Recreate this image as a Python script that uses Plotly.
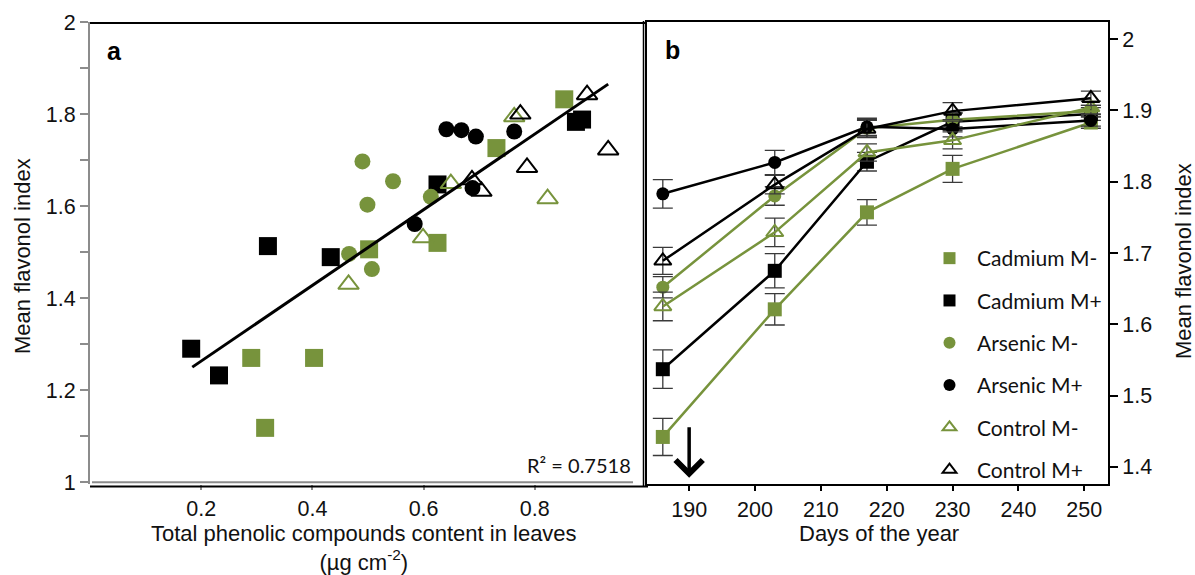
import plotly.graph_objects as go

W, H = 1195, 575
GREEN = '#77933C'
GRAY = '#8c8c8c'
TICKFONT = dict(family='Liberation Sans, Arial', size=21.5, color='#111')
TITLEFONT = dict(family='Liberation Sans, Arial', size=22, color='#111')

# panel a: flavonol index vs total phenolics (one point per plant)
cd_minus_x = [0.290, 0.315, 0.403, 0.502, 0.625, 0.731, 0.853]
cd_minus_y = [1.270, 1.118, 1.270, 1.506, 1.520, 1.726, 1.832]
cd_plus_x = [0.182, 0.232, 0.320, 0.433, 0.625, 0.874, 0.885]
cd_plus_y = [1.290, 1.232, 1.513, 1.489, 1.647, 1.783, 1.788]
as_minus_x = [0.466, 0.507, 0.490, 0.545, 0.499, 0.613]
as_minus_y = [1.496, 1.463, 1.697, 1.654, 1.603, 1.620]
as_plus_x = [0.584, 0.688, 0.641, 0.668, 0.694, 0.763]
as_plus_y = [1.561, 1.639, 1.767, 1.765, 1.751, 1.762]
ct_minus_x = [0.465, 0.599, 0.649, 0.763, 0.823]
ct_minus_y = [1.430, 1.531, 1.649, 1.794, 1.616]
ct_plus_x = [0.687, 0.704, 0.774, 0.786, 0.894, 0.932]
ct_plus_y = [1.657, 1.632, 1.800, 1.684, 1.842, 1.722]
trend_x = [0.184, 0.932]
trend_y = [1.250, 1.865]
r2_text = 'R² = 0.7518'

# panel b: mean flavonol index over time
days = [186, 203, 217, 230, 251]
cd_minus = [1.442, 1.621, 1.757, 1.818, 1.883]
cd_minus_err = [0.026, 0.022, 0.018, 0.019, 0.008]
cd_plus = [1.537, 1.675, 1.828, 1.884, 1.895]
cd_plus_err = [0.027, 0.024, 0.013, 0.012, 0.009]
as_minus = [1.652, 1.780, 1.875, 1.887, 1.899]
as_minus_err = [0.015, 0.013, 0.012, 0.010, 0.008]
as_plus = [1.783, 1.827, 1.877, 1.874, 1.886]
as_plus_err = [0.020, 0.017, 0.012, 0.011, 0.008]
ct_minus = [1.625, 1.729, 1.841, 1.858, 1.904]
ct_minus_err = [0.020, 0.020, 0.012, 0.012, 0.009]
ct_plus = [1.689, 1.796, 1.874, 1.899, 1.917]
ct_plus_err = [0.019, 0.013, 0.012, 0.012, 0.010]
arrow_day = 190

xa_ticks = [0.2, 0.4, 0.6, 0.8]


def px(x):
    return x / W


def py(y):
    return 1 - y / H


series = [
    # name, color, symbol, panel a x/y, panel b y/err
    ('Cadmium M-', GREEN, 'square', cd_minus_x, cd_minus_y, cd_minus, cd_minus_err),
    ('Cadmium M+', 'black', 'square', cd_plus_x, cd_plus_y, cd_plus, cd_plus_err),
    ('Arsenic M-', GREEN, 'circle', as_minus_x, as_minus_y, as_minus, as_minus_err),
    ('Arsenic M+', 'black', 'circle', as_plus_x, as_plus_y, as_plus, as_plus_err),
    ('Control M-', GREEN, 'triangle-up-open', ct_minus_x, ct_minus_y, ct_minus, ct_minus_err),
    ('Control M+', 'black', 'triangle-up-open', ct_plus_x, ct_plus_y, ct_plus, ct_plus_err),
]

fig = go.Figure()

for name, col, sym, ax_, ay_, by_, be_ in series:
    is_tri = sym.startswith('triangle')
    fig.add_trace(go.Scatter(
        x=ax_, y=ay_, mode='markers', name=name, legendgroup=name,
        marker=dict(symbol=sym, color=col, size=18 if not sym == 'circle' else 16,
                    line=dict(color=col, width=2 if is_tri else 0)),
        xaxis='x', yaxis='y'))

fig.add_trace(go.Scatter(
    x=trend_x, y=trend_y, mode='lines', showlegend=False,
    line=dict(color='black', width=3), xaxis='x', yaxis='y'))

for name, col, sym, ax_, ay_, by_, be_ in series:
    is_tri = sym.startswith('triangle')
    fig.add_trace(go.Scatter(
        x=days, y=by_, mode='lines+markers', name=name, legendgroup=name,
        showlegend=False,
        line=dict(color=col, width=2.5),
        marker=dict(symbol=sym, color=col, size=15 if is_tri else (14 if sym == 'square' else 13),
                    line=dict(color=col, width=2 if is_tri else 0)),
        error_y=dict(type='data', array=be_, color='#3a3a3a', thickness=1.3, width=10),
        xaxis='x2', yaxis='y2'))

ydom = [py(484), py(22)]

fig.update_layout(
    width=W, height=H,
    margin=dict(l=0, r=0, t=0, b=0),
    paper_bgcolor='white', plot_bgcolor='white',
    showlegend=True,
    legend=dict(x=px(922), y=py(238), xanchor='left', yanchor='top',
                font=dict(family='Lato', size=21, color='#111'),
                itemsizing='constant', itemwidth=45, tracegroupgap=12,
                bgcolor='rgba(0,0,0,0)'),
    xaxis=dict(domain=[px(90), px(646)], range=[0, 1], anchor='y',
               tickvals=xa_ticks, ticks='outside', ticklen=5, tickcolor=GRAY, tickwidth=2,
               showline=False, showgrid=False, zeroline=False, tickfont=TICKFONT,
               automargin=False),
    yaxis=dict(domain=ydom, range=[0.996, 2], anchor='x',
               tick0=0, dtick=0.2, ticks='outside', ticklen=8, tickcolor=GRAY, tickwidth=2,
               minor=dict(dtick=0.1, ticks='outside', ticklen=8, tickcolor=GRAY, tickwidth=2),
               showline=True, linecolor=GRAY, linewidth=2,
               showgrid=False, zeroline=False, tickfont=TICKFONT, automargin=False),
    xaxis2=dict(domain=[px(647), px(1108)], range=[183.6, 253.6], anchor='y2',
                tick0=0, dtick=10, ticks='outside', ticklen=5, tickcolor='black', tickwidth=1.5,
                showline=True, linecolor='black', linewidth=2, mirror=True,
                showgrid=False, zeroline=False, tickfont=TICKFONT, automargin=False),
    yaxis2=dict(domain=ydom, range=[1.376, 2.024], anchor='x2', side='right',
                tick0=0, dtick=0.1, ticks='outside', ticklen=8, tickcolor='black', tickwidth=1.5,
                showline=True, linecolor='black', linewidth=2, mirror=True,
                showgrid=False, zeroline=False, tickfont=TICKFONT, automargin=False),
)

line_black = dict(color='black', width=2)
fig.add_shape(type='line', xref='paper', yref='paper', x0=px(90), x1=px(646),
              y0=py(23), y1=py(23), line=line_black)
fig.add_shape(type='line', xref='paper', yref='paper', x0=px(90), x1=px(648),
              y0=py(486.5), y1=py(486.5), line=line_black)
fig.add_shape(type='line', xref='paper', yref='paper', x0=px(92), x1=px(633),
              y0=py(482.3), y1=py(482.3), line=dict(color=GRAY, width=2))
fig.add_shape(type='line', xref='paper', yref='paper', x0=px(643.5), x1=px(643.5),
              y0=py(21), y1=py(487), line=dict(color='black', width=1.5))


def note(text, x, y, font, **kw):
    fig.add_annotation(xref='paper', yref='paper', x=px(x), y=py(y), text=text,
                       showarrow=False, xanchor=kw.pop('xanchor', 'center'),
                       yanchor='middle', font=font, **kw)


label_font = dict(family='Liberation Sans, Arial', size=25, color='black')
note('<b>a</b>', 114, 51, label_font)
note('<b>b</b>', 673, 50, label_font)
note(r2_text, 633, 465, dict(family='Lato', size=20, color='#111'), xanchor='right')
note('Mean flavonol index', 23, 256, TITLEFONT, textangle=-90)
note('Mean flavonol index', 1183, 261, TITLEFONT, textangle=-90)
note('Total phenolic compounds content in leaves<br>(µg cm<sup>-2</sup>)', 364, 548, TITLEFONT)
note('Days of the year', 879, 533, TITLEFONT)

fig.add_annotation(xref='x2', yref='y2', x=arrow_day, y=1.3846, ax=0, ay=-52,
                   text='', showarrow=True, arrowhead=4, arrowsize=1.5, arrowwidth=3.5,
                   arrowcolor='black', standoff=0)

fig.write_html('out.html', config={'displayModeBar': False},
               post_script="document.body.style.margin='0';")
